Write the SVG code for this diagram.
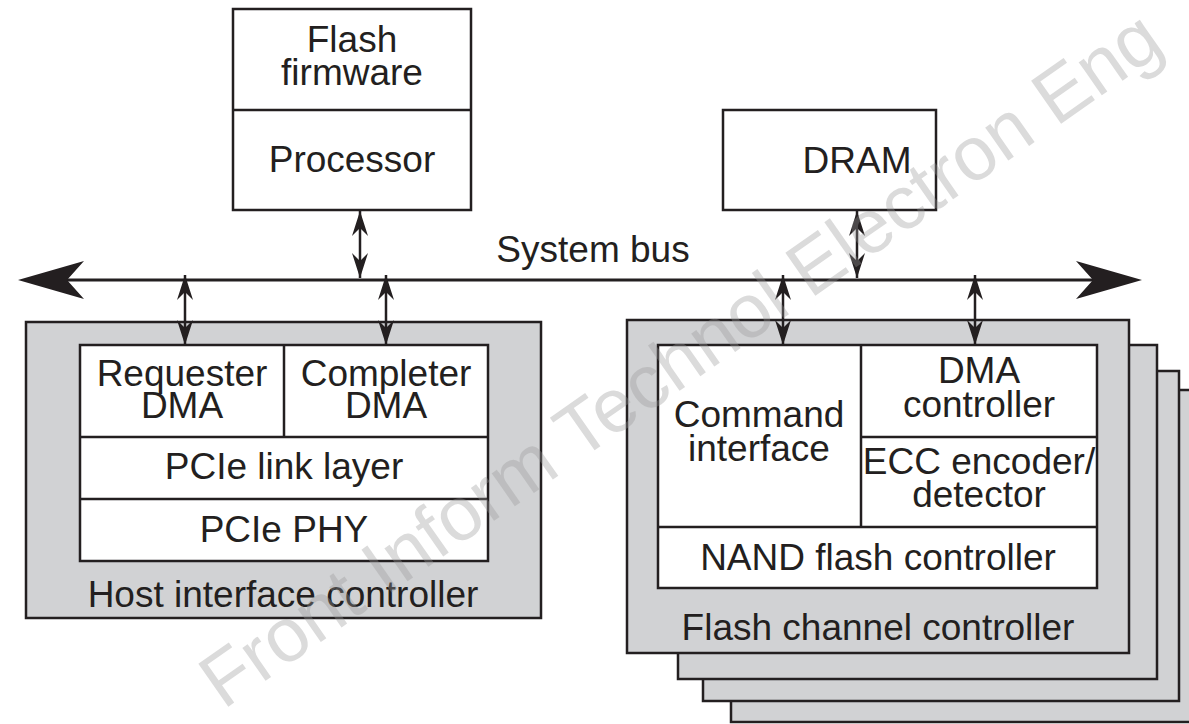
<svg xmlns="http://www.w3.org/2000/svg" width="1189" height="724" viewBox="0 0 1189 724">
<style>
.box{fill:#fff;stroke:#231f20;stroke-width:2.5}
.gbox{fill:#d1d2d4;stroke:#231f20;stroke-width:2.5}
.ln{fill:none;stroke:#231f20;stroke-width:2.5}
.t{font-family:"Liberation Sans",Arial,sans-serif;font-size:37px;fill:#231f20;text-anchor:middle}
.con{stroke:#231f20;stroke-width:2.5;fill:none;marker-start:url(#ah);marker-end:url(#ah)}
.wm{font-family:"Liberation Sans",Arial,sans-serif;font-size:76px;fill:#999;opacity:0.35;text-anchor:middle}
</style>
<defs>
<marker id="ah" markerUnits="userSpaceOnUse" markerWidth="30" markerHeight="20" viewBox="-26 -10 28 20" refX="0" refY="0" orient="auto-start-reverse">
<path d="M0,0 L-25,-8 L-17,0 L-25,8 Z" fill="#231f20"/>
</marker>
</defs>

<g id="processor">
<rect class="box" x="233" y="9" width="238" height="201"/>
<line class="ln" x1="233" y1="110" x2="471" y2="110"/>
<text class="t" x="352" y="52">Flash</text>
<text class="t" x="352" y="85">firmware</text>
<text class="t" x="352" y="172">Processor</text>
</g>

<g id="dram">
<rect class="box" x="723" y="110" width="213" height="100"/>
<text class="t" x="857" y="173">DRAM</text>
</g>

<g id="host-interface-controller">
<rect class="gbox" x="26" y="322" width="515" height="296"/>
<rect class="box" x="80" y="345" width="408" height="216"/>
<line class="ln" x1="284" y1="345" x2="284" y2="437"/>
<line class="ln" x1="80" y1="437" x2="488" y2="437"/>
<line class="ln" x1="80" y1="499" x2="488" y2="499"/>
<text class="t" x="182" y="386">Requester</text>
<text class="t" x="182" y="418">DMA</text>
<text class="t" x="386" y="386">Completer</text>
<text class="t" x="386" y="418">DMA</text>
<text class="t" x="284" y="479">PCIe link layer</text>
<text class="t" x="284" y="542">PCIe PHY</text>
<text class="t" x="283" y="607">Host interface controller</text>
</g>

<g id="flash-channel-controller">
<rect class="gbox" x="731" y="390" width="470" height="332"/>
<rect class="gbox" x="703" y="371" width="476" height="330"/>
<rect class="gbox" x="678" y="345" width="479" height="334"/>
<rect class="gbox" x="627" y="320" width="502" height="333"/>
<rect class="box" x="658" y="345" width="439" height="243"/>
<line class="ln" x1="861" y1="345" x2="861" y2="527"/>
<line class="ln" x1="861" y1="437" x2="1097" y2="437"/>
<line class="ln" x1="658" y1="527" x2="1097" y2="527"/>
<text class="t" x="759" y="427">Command</text>
<text class="t" x="759" y="461">interface</text>
<text class="t" x="979" y="383">DMA</text>
<text class="t" x="979" y="417">controller</text>
<text class="t" x="979" y="474">ECC encoder/</text>
<text class="t" x="979" y="507">detector</text>
<text class="t" x="878" y="570">NAND flash controller</text>
<text class="t" x="878" y="640">Flash channel controller</text>
</g>

<g id="connectors">
<g id="system-bus">
<line x1="60" y1="280" x2="1100" y2="280" stroke="#231f20" stroke-width="3"/>
<path d="M18,280 L84,261 L67,280 L84,299 Z" fill="#231f20"/>
<path d="M1142,280 L1076,261 L1093,280 L1076,299 Z" fill="#231f20"/>
<text class="t" x="593" y="262">System bus</text>
</g>
<line class="con" x1="360" y1="211" x2="360" y2="278"/>
<line class="con" x1="857" y1="211" x2="857" y2="278"/>
<line class="con" x1="185" y1="275" x2="185" y2="345"/>
<line class="con" x1="386" y1="275" x2="386" y2="345"/>
<line class="con" x1="783" y1="275" x2="783" y2="345"/>
<line class="con" x1="975" y1="275" x2="975" y2="345"/>
</g>

<text class="wm" x="695" y="380" transform="rotate(-35 695 380)">Front Inform Technol Electron Eng</text>
</svg>
